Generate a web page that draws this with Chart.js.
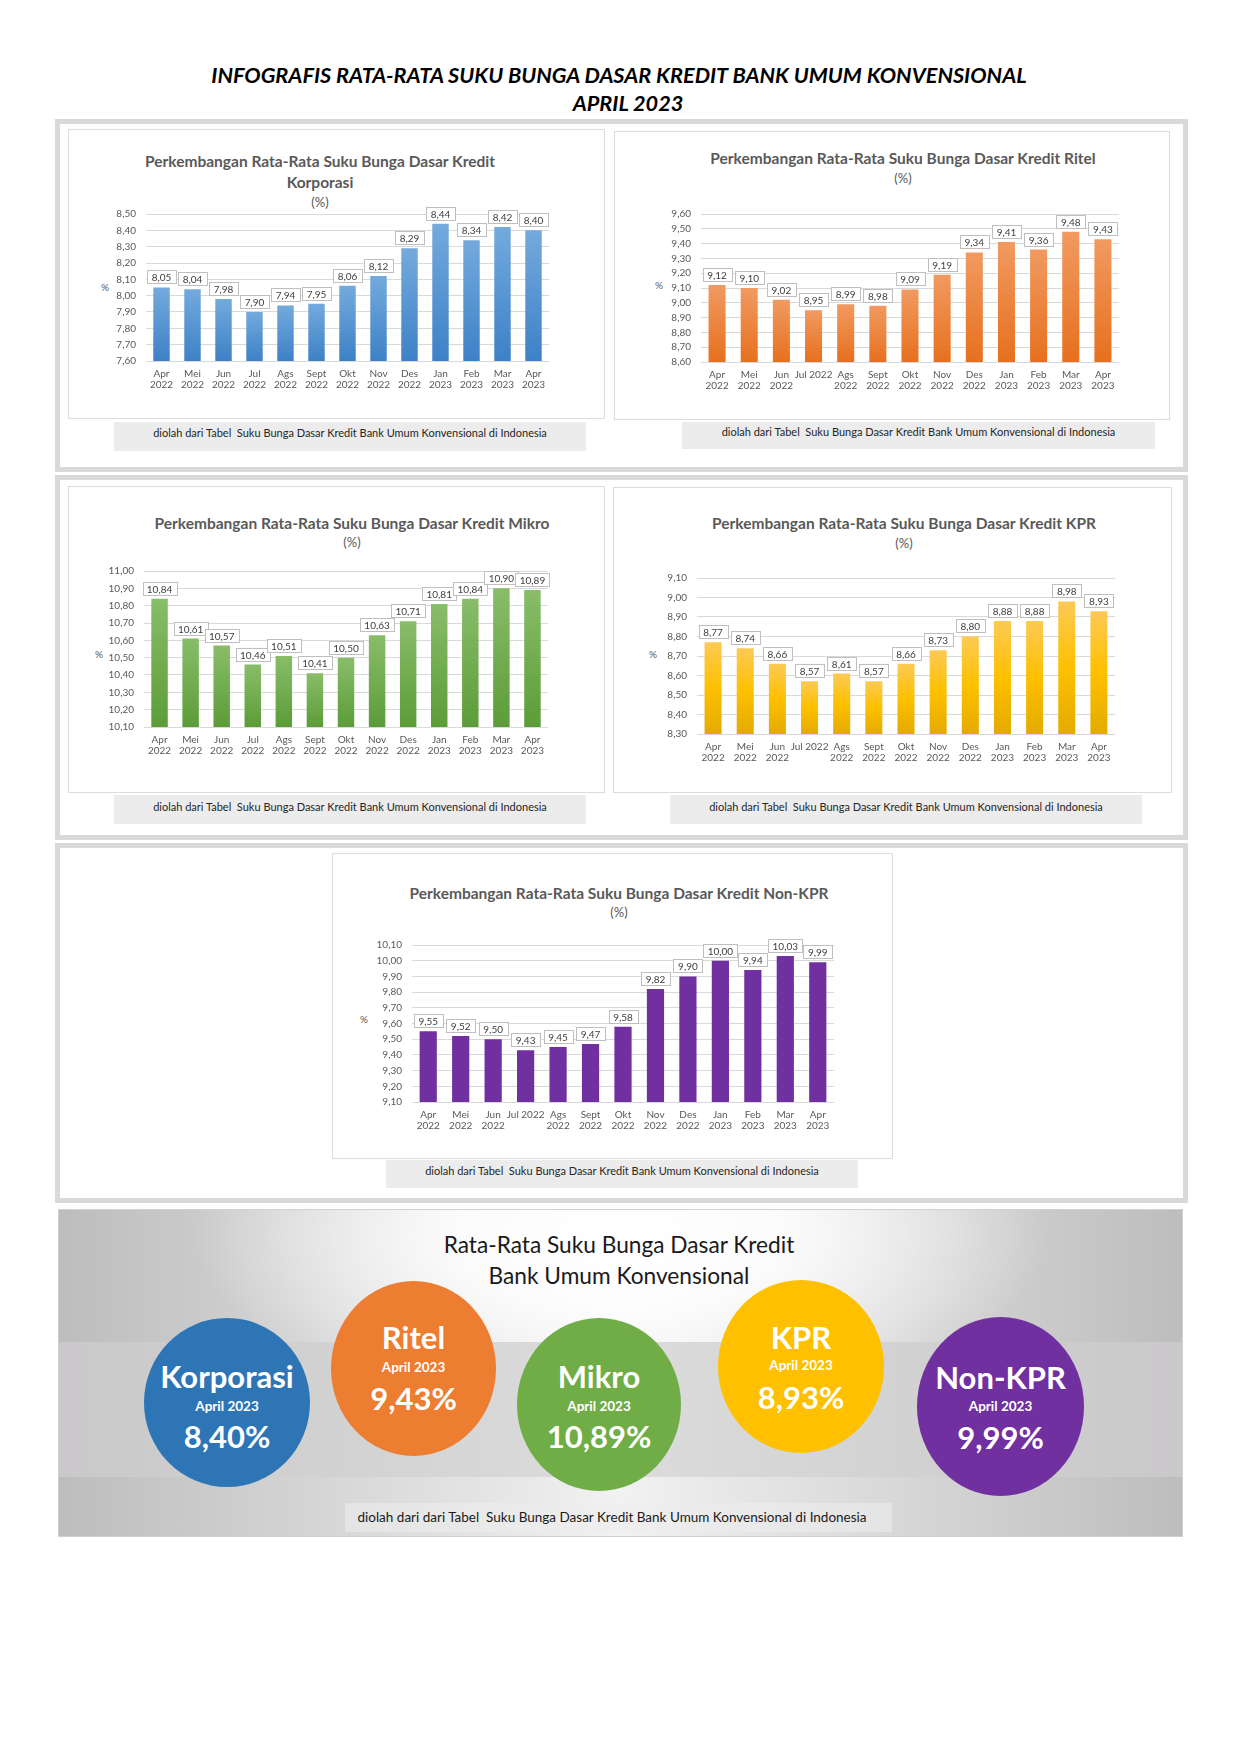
<!DOCTYPE html>
<html>
<head>
<meta charset="utf-8">
<script src="https://cdn.jsdelivr.net/npm/chart.js@4.4.0/dist/chart.umd.min.js"></script>
<style>
  body { margin: 0; background: #fff; font-family: Lato, "Open Sans", sans-serif; }
  #page { position: relative; width: 1241px; height: 1755px; overflow: hidden; }
  .abs { position: absolute; }
  .panel { position: absolute; border: 5px solid #d9d9d9; box-sizing: border-box; background: #fff; }
  .kotak { position: absolute; border: 1px solid #dcdcdc; box-sizing: border-box; background: #fff; }
  .caption { position: absolute; background: #ececec; }
  .t { position: absolute; transform: translate(-50%, -50%); white-space: pre; }
  .judul { color: #595959; font-weight: bold; font-size: 15.5px; }
  .persen { color: #595959; font-size: 13px; }
  .ket { color: #262626; font-size: 11px; }
  .sumbu { color: #595959; font-size: 10px; }
  .bulat { position: absolute; border-radius: 50%; }
  .putih { color: #fff; font-weight: bold; }
</style>
</head>
<body>
<div id="page"></div>
<script>
// kategori bulan
const kategori = [['Apr','2022'],['Mei','2022'],['Jun','2022'],['Jul','2022'],['Ags','2022'],['Sept','2022'],
  ['Okt','2022'],['Nov','2022'],['Des','2022'],['Jan','2023'],['Feb','2023'],['Mar','2023'],['Apr','2023']];
const kategoriJul = kategori.map(l => l[0] === 'Jul' ? 'Jul 2022' : l);

// suku bunga dasar kredit (%)
const korporasi = [8.05, 8.04, 7.98, 7.90, 7.94, 7.95, 8.06, 8.12, 8.29, 8.44, 8.34, 8.42, 8.40];
const ritel     = [9.12, 9.10, 9.02, 8.95, 8.99, 8.98, 9.09, 9.19, 9.34, 9.41, 9.36, 9.48, 9.43];
const mikro     = [10.84, 10.61, 10.57, 10.46, 10.51, 10.41, 10.50, 10.63, 10.71, 10.81, 10.84, 10.90, 10.89];
const kpr       = [8.77, 8.74, 8.66, 8.57, 8.61, 8.57, 8.66, 8.73, 8.80, 8.88, 8.88, 8.98, 8.93];
const nonKpr    = [9.55, 9.52, 9.50, 9.43, 9.45, 9.47, 9.58, 9.82, 9.90, 10.00, 9.94, 10.03, 9.99];

// batas sumbu y [min, max]
const skalaKorporasi = [7.60, 8.50];
const skalaRitel     = [8.60, 9.60];
const skalaMikro     = [10.10, 11.00];
const skalaKpr       = [8.30, 9.10];
const skalaNonKpr    = [9.10, 10.10];

const sumber = 'diolah dari Tabel  Suku Bunga Dasar Kredit Bank Umum Konvensional di Indonesia';
const judulDasar = 'Perkembangan Rata-Rata Suku Bunga Dasar Kredit';

const page = document.getElementById('page');
const fmt = v => v.toFixed(2).replace('.', ',');

function el(cls, css, html) {
  const d = document.createElement('div');
  d.className = cls;
  Object.assign(d.style, css);
  if (html !== undefined) d.textContent = html;
  page.appendChild(d);
  return d;
}
function teks(cls, str, x, y, extra) {
  return el('t ' + cls, Object.assign({ left: x + 'px', top: y + 'px' }, extra || {}), str);
}

// judul halaman
teks('', 'INFOGRAFIS RATA-RATA SUKU BUNGA DASAR KREDIT BANK UMUM KONVENSIONAL', 619, 75,
  { fontWeight: 'bold', fontStyle: 'italic', fontSize: '21.7px', color: '#000' });
teks('', 'APRIL 2023', 628, 103, { fontWeight: 'bold', fontStyle: 'italic', fontSize: '21.7px', color: '#000' });

// panel
el('panel', { left: '55px', top: '119px', width: '1133px', height: '353px' });
el('panel', { left: '55px', top: '475px', width: '1133px', height: '365px' });
el('panel', { left: '55px', top: '843px', width: '1133px', height: '360px' });

// gradien per batang
function gradien(stops) {
  return (c) => {
    const chart = c.chart;
    const area = chart.chartArea;
    if (!area || c.type !== 'data') return stops[stops.length - 1];
    const y = chart.scales.y.getPixelForValue(c.raw);
    const g = chart.ctx.createLinearGradient(0, y, 0, area.bottom);
    stops.forEach((s, i) => g.addColorStop(i / (stops.length - 1), s));
    return g;
  };
}

const labelKotak = {
  id: 'labelKotak',
  afterDatasetsDraw(chart) {
    const ctx = chart.ctx;
    const data = chart.data.datasets[0].data;
    ctx.save();
    ctx.font = '10px Lato';
    ctx.textAlign = 'center';
    ctx.textBaseline = 'middle';
    chart.getDatasetMeta(0).data.forEach((bar, i) => {
      const txt = fmt(data[i]);
      const w = Math.round(ctx.measureText(txt).width + 9);
      const h = 13;
      const x = Math.round(bar.x - w / 2);
      const y = Math.round(bar.y - 4 - h);
      ctx.fillStyle = '#fff';
      ctx.fillRect(x, y, w, h);
      ctx.strokeStyle = '#bfbfbf';
      ctx.lineWidth = 1;
      ctx.strokeRect(x + 0.5, y + 0.5, w, h);
      ctx.fillStyle = '#404040';
      ctx.fillText(txt, bar.x, y + h / 2 + 1);
    });
    ctx.restore();
  }
};

function grafik(cfg) {
  const p = cfg.plot; // [kiri, atas, kanan, bawah]
  const kiri = 60, atas = 30, kanan = 25, bawah = 36;
  const w = p[2] - p[0] + kiri + kanan, h = p[3] - p[1] + atas + bawah;

  el('kotak', { left: cfg.box[0] + 'px', top: cfg.box[1] + 'px',
    width: (cfg.box[2] - cfg.box[0]) + 'px', height: (cfg.box[3] - cfg.box[1]) + 'px' });
  cfg.judul.forEach(j => teks('judul', j[0], cfg.cx, j[1]));
  teks('persen', '(%)', cfg.cx, cfg.persenY);
  teks('sumbu', '%', cfg.sumbuY[0], cfg.sumbuY[1]);
  el('caption', { left: cfg.cap[0] + 'px', top: cfg.cap[1] + 'px',
    width: (cfg.cap[2] - cfg.cap[0]) + 'px', height: (cfg.cap[3] - cfg.cap[1]) + 'px' });
  teks('ket', sumber, (cfg.cap[0] + cfg.cap[2]) / 2, cfg.capY);

  const cv = document.createElement('canvas');
  cv.width = w; cv.height = h;
  Object.assign(cv.style, { position: 'absolute', left: (p[0] - kiri) + 'px', top: (p[1] - atas) + 'px',
    width: w + 'px', height: h + 'px' });
  page.appendChild(cv);

  new Chart(cv, {
    type: 'bar',
    data: {
      labels: cfg.labels,
      datasets: [{
        data: cfg.data,
        backgroundColor: cfg.warna.length > 1 ? gradien(cfg.warna) : cfg.warna[0],
        barPercentage: 0.53,
        categoryPercentage: 1
      }]
    },
    options: {
      responsive: false,
      animation: false,
      layout: { padding: { left: 0, top: atas, right: kanan, bottom: 0 } },
      plugins: { legend: { display: false }, title: { display: false }, tooltip: { enabled: false } },
      scales: {
        x: {
          grid: { display: false, drawTicks: false },
          border: { display: false },
          ticks: { autoSkip: false, maxRotation: 0, minRotation: 0, padding: 7, color: '#595959',
            font: { family: 'Lato', size: 10, lineHeight: 1.15 } },
          afterFit: s => { s.height = bawah; }
        },
        y: {
          min: cfg.skala[0], max: cfg.skala[1],
          grid: { color: '#d9d9d9', drawTicks: false },
          border: { display: false },
          ticks: { stepSize: 0.1, autoSkip: false, padding: 10, color: '#595959',
            font: { family: 'Lato', size: 10 }, callback: v => fmt(v) },
          afterFit: s => { s.width = kiri; }
        }
      }
    },
    plugins: [labelKotak]
  });
}

grafik({
  data: korporasi, labels: kategori, skala: skalaKorporasi,
  warna: ['#74aadd', '#3d81c6'],
  box: [68, 129, 605, 419], plot: [146, 214, 549, 361],
  cx: 320, judul: [[judulDasar, 161], ['Korporasi', 182]], persenY: 202,
  sumbuY: [105, 287], cap: [114, 422, 586, 451], capY: 432
});
grafik({
  data: ritel, labels: kategoriJul, skala: skalaRitel,
  warna: ['#f19a61', '#e6701e'],
  box: [614, 131, 1170, 420], plot: [701, 214, 1119, 362],
  cx: 903, judul: [[judulDasar + ' Ritel', 158]], persenY: 178,
  sumbuY: [659, 285], cap: [682, 422, 1155, 449], capY: 431
});
grafik({
  data: mikro, labels: kategori, skala: skalaMikro,
  warna: ['#89bd69', '#5c9c38'],
  box: [68, 486, 605, 793], plot: [144, 571, 548, 727],
  cx: 352, judul: [[judulDasar + ' Mikro', 523]], persenY: 542,
  sumbuY: [99, 654], cap: [114, 795, 586, 824], capY: 806
});
grafik({
  data: kpr, labels: kategoriJul, skala: skalaKpr,
  warna: ['#fcca55', '#ffc000', '#e3ab00'],
  box: [613, 487, 1172, 793], plot: [697, 578, 1115, 734],
  cx: 904, judul: [[judulDasar + ' KPR', 523]], persenY: 543,
  sumbuY: [653, 654], cap: [670, 795, 1142, 824], capY: 806
});
grafik({
  data: nonKpr, labels: kategoriJul, skala: skalaNonKpr,
  warna: ['#7030a0'],
  box: [332, 853, 893, 1159], plot: [412, 945, 834, 1102],
  cx: 619, judul: [[judulDasar + ' Non-KPR', 893]], persenY: 912,
  sumbuY: [364, 1019], cap: [386, 1160, 858, 1188], capY: 1170
});

// ringkasan April 2023
el('abs', { left: '58px', top: '1209px', width: '1125px', height: '328px',
  border: '1px solid #d0d0d0', boxSizing: 'border-box',
  background: 'radial-gradient(ellipse 38% 55% at 50% 8%, rgba(255,255,255,1) 0%, rgba(255,255,255,0.85) 40%, rgba(255,255,255,0) 100%), ' +
    'linear-gradient(to right, #bdbdbd 0%, #d2d2d2 20%, #e9e9e9 42%, #f2f2f2 50%, #e9e9e9 58%, #d2d2d2 80%, #bdbdbd 100%)' });
el('abs', { left: '59px', top: '1342px', width: '1123px', height: '135px',
  background: 'linear-gradient(to right, #cac8ca 0%, #d4d4d4 30%, #dcdcdc 50%, #d4d4d4 70%, #cac8ca 100%)' });
teks('', 'Rata-Rata Suku Bunga Dasar Kredit', 619, 1244, { fontSize: '22.7px', color: '#1a1a1a' });
teks('', 'Bank Umum Konvensional', 619, 1275, { fontSize: '22.7px', color: '#1a1a1a' });

const ringkas = [
  ['Korporasi', korporasi, '#2e75b6', [144, 1318, 310, 1487], [1376, 1406, 1436]],
  ['Ritel', ritel, '#ed7d31', [331, 1281, 496, 1456], [1337, 1367, 1398]],
  ['Mikro', mikro, '#70ad47', [517, 1318, 681, 1491], [1376, 1406, 1436]],
  ['KPR', kpr, '#ffc000', [718, 1280, 884, 1453], [1337, 1365, 1397]],
  ['Non-KPR', nonKpr, '#7030a0', [917, 1317, 1084, 1496], [1377, 1406, 1437]]
];
ringkas.forEach(r => {
  const b = r[3];
  el('bulat', { left: b[0] + 'px', top: b[1] + 'px', width: (b[2] - b[0]) + 'px', height: (b[3] - b[1]) + 'px',
    background: r[2] });
  const cx = (b[0] + b[2]) / 2;
  teks('putih', r[0], cx, r[4][0], { fontSize: '31px' });
  teks('putih', 'April 2023', cx, r[4][1], { fontSize: '13.5px' });
  teks('putih', fmt(r[1][r[1].length - 1]) + '%', cx, r[4][2], { fontSize: '31px' });
});

el('abs', { left: '345px', top: '1503px', width: '547px', height: '29px', background: 'rgba(236,236,236,0.6)' });
teks('', 'diolah dari dari Tabel  Suku Bunga Dasar Kredit Bank Umum Konvensional di Indonesia', 612, 1517,
  { fontSize: '13.5px', color: '#1a1a1a' });
</script>
</body>
</html>
